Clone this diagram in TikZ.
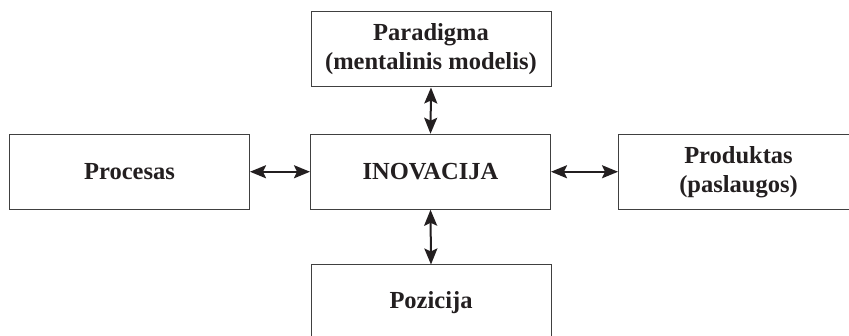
\documentclass[tikz,border=0pt]{standalone}
\usepackage{fontspec}
\setmainfont{Liberation Serif}
\usetikzlibrary{arrows.meta}
\definecolor{ink}{HTML}{231F20}
\definecolor{frame}{HTML}{404040}
\tikzset{
  box/.style={draw=frame, line width=1pt, fill=white, minimum width=240pt, minimum height=75pt,
    inner sep=0pt, align=center, text=ink, font=\fontsize{24.5}{29}\selectfont\bfseries},
  link/.style={draw=ink, line width=2pt, {Stealth[length=16pt,width=13pt,inset=3pt]}-{Stealth[length=16pt,width=13pt,inset=3pt]}}
}
\begin{document}
\begin{tikzpicture}[x=1pt,y=-1pt]
\useasboundingbox (0,0) rectangle (849,336);
\clip (0,0) rectangle (849,336);
\node[box] (par) at (431,49.5) {Paradigma\\(mentalinis modelis)};
\node[box] (ino) at (430.5,171.75) {INOVACIJA};
\node[box] (pro) at (129.5,171.75) {Procesas};
\node[box] (prd) at (738.5,171.75) {Produktas\\(paslaugos)};
\node[box] (poz) at (431,302.5) {Pozicija};
\draw[link] (par.south) -- (ino.north);
\draw[link] (ino.south) -- (poz.north);
\draw[link] (pro.east) -- (ino.west);
\draw[link] (ino.east) -- (prd.west);
\end{tikzpicture}
\end{document}
